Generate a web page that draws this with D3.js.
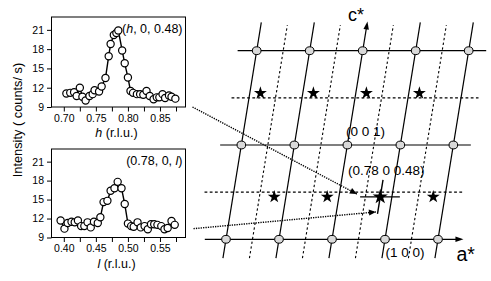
<!DOCTYPE html>
<html><head><meta charset="utf-8">
<script src="https://cdn.jsdelivr.net/npm/d3@7"></script>
<style>
html,body{margin:0;padding:0;background:#fff;}
svg{display:block;font-family:"Liberation Sans",Arial,sans-serif;}
</style></head>
<body><svg id="c" width="491" height="281"></svg>
<script>
// ---- scan data ----
const hValues = [0.704,0.710,0.716,0.720,0.725,0.729,0.734,0.740,0.745,0.748,0.755,0.759,0.765,0.770,0.773,0.778,0.782,0.785,0.791,0.795,0.800,0.804,0.808,0.814,0.819,0.824,0.829,0.834,0.840,0.845,0.849,0.854,0.858,0.864,0.868,0.874];
const hCounts = [11.1,11.2,11.3,10.7,12.0,10.6,10.0,10.7,11.0,11.6,11.4,12.2,13.5,16.9,18.8,20.2,20.5,20.9,17.8,15.8,13.6,11.5,11.2,11.0,11.0,10.9,11.5,10.7,10.2,10.5,10.5,11.0,10.4,10.8,10.6,10.3];
const lValues = [0.395,0.401,0.406,0.412,0.417,0.422,0.427,0.432,0.437,0.442,0.447,0.453,0.457,0.462,0.468,0.473,0.479,0.484,0.490,0.495,0.500,0.505,0.509,0.515,0.520,0.526,0.531,0.536,0.541,0.546,0.552,0.557,0.562,0.568,0.573];
const lCounts = [11.7,10.4,11.3,11.5,11.4,11.7,10.8,10.8,11.4,10.6,11.5,11.3,12.2,14.6,14.8,16.4,16.8,17.8,16.8,14.3,11.2,10.8,10.7,11.4,10.6,10.8,10.3,11.1,11.1,11.0,10.8,10.3,10.5,11.6,11.0];
const hTicks = [0.70,0.725,0.75,0.775,0.80,0.825,0.85,0.875];
const lTicks = [0.40,0.425,0.45,0.475,0.50,0.525,0.55,0.575];
const yTicks = [9,12,15,18,21];
// ---- reciprocal lattice (h, l) ----
const latticeH = [-2,-1,0,1,2];
const halfH = [-1.5,-0.5,0.5,1.5];
const latticeL = [0,1,2];
const halfL = [0.5,1.5];
const starsUpper = [-1.8,-0.8,0.2,1.2];   // h at l ~ 1.55
const starsLower = [-1.22,-0.22,0.78,1.78]; // h at l ~ 0.45
const starUpperL = 1.55, starLowerL = 0.45;
const bigStar = {h:0.78, l:0.45};

const svg = d3.select("#c");
const F = '"Liberation Sans",Arial,sans-serif';

function panel(top, bottom, xdom, xs, ys, ticks, title, note) {
  const left = 51.5, right = 185.5;
  const x = d3.scaleLinear().domain(xdom).range([left, right]);
  const y = d3.scaleLinear().domain([9, 23]).range([bottom, top]);
  const g = svg.append("g");
  const xa = d3.axisBottom(x).tickValues(ticks).tickSize(4.5).tickPadding(3)
    .tickFormat(d => (Math.round(d*1000) % 50 === 0) ? d3.format(".2f")(d) : "");
  const ya = d3.axisLeft(y).tickValues(yTicks).tickSize(4.5).tickPadding(3);
  const gx = g.append("g").attr("transform", `translate(0,${bottom})`).call(xa);
  const gy = g.append("g").attr("transform", `translate(${left},0)`).call(ya);
  [gx, gy].forEach(a => {
    a.select(".domain").remove();
    a.selectAll("line").attr("stroke", "#000").attr("stroke-width", 1);
    a.selectAll("text").attr("font-family", F).attr("font-size", 10.5).attr("fill", "#000");
  });
  g.append("rect").attr("x", left).attr("y", top).attr("width", right-left).attr("height", bottom-top)
    .attr("fill", "none").attr("stroke", "#000").attr("stroke-width", 1);
  const line = d3.line().x((d,i) => x(xs[i])).y((d,i) => y(ys[i]));
  g.append("path").datum(xs).attr("d", line).attr("fill", "none").attr("stroke", "#000").attr("stroke-width", 1.4);
  g.selectAll("circle.p").data(xs).join("circle").attr("class","p")
    .attr("cx", d => x(d)).attr("cy", (d,i) => y(ys[i])).attr("r", 3.6)
    .attr("fill", "#fff").attr("stroke", "#000").attr("stroke-width", 1.2);
  const t = g.append("text").attr("x", (left+right)/2 - 2).attr("y", bottom + 30)
    .attr("text-anchor","middle").attr("font-family", F).attr("font-size", 12.5);
  t.append("tspan").attr("font-style","italic").text(title);
  t.append("tspan").text(" (r.l.u.)");
  const n = g.append("text").attr("x", right - 3).attr("y", top + 16)
    .attr("text-anchor","end").attr("font-family", F).attr("font-size", 12.5);
  note.forEach(p => n.append("tspan").attr("font-style", p[1] ? "italic" : null).text(p[0]));
  return {x, y, left, right, top, bottom};
}

const P1 = panel(17, 107, [0.6808, 0.8898], hValues, hCounts, hTicks, "h",
  [["(",0],["h",1],[", 0, 0.48)",0]]);
const P2 = panel(149, 237.5, [0.3808, 0.5898], lValues, lCounts, lTicks, "l",
  [["(0.78, 0, ",0],["l",1],[")",0]]);

svg.append("text").attr("transform", "translate(21.5,120) rotate(-90)")
  .attr("text-anchor","middle").attr("font-family", F).attr("font-size", 12.8)
  .text("Intensity ( counts/ s)");

// ---- lattice drawing ----
const sH = d3.scaleLinear().domain([0,1]).range([332, 385]);
const sL = d3.scaleLinear().domain([0,1]).range([239.3, 145]);
const tilt = 15.35;
const P = (h, l) => [sH(h) + tilt*l, sL(l)];
const G = svg.append("g");
function seg(a, b, dash, w) {
  return G.append("line").attr("x1", a[0]).attr("y1", a[1]).attr("x2", b[0]).attr("y2", b[1])
    .attr("stroke", "#000").attr("stroke-width", w || 1.2).attr("stroke-dasharray", dash || null);
}
function head(tip, from, len, wid) {
  const dx = tip[0]-from[0], dy = tip[1]-from[1], d = Math.hypot(dx, dy);
  const ux = dx/d, uy = dy/d, bx = tip[0]-ux*len, by = tip[1]-uy*len;
  G.append("path").attr("d", `M${tip[0]},${tip[1]}L${bx - uy*wid/2},${by + ux*wid/2}L${bx + uy*wid/2},${by - ux*wid/2}Z`)
    .attr("fill", "#000");
}
// tilted lines
latticeH.forEach(h => seg(P(h, -0.2), P(h, h === 0 ? 2.24 : 2.3)));
halfH.forEach(h => seg(P(h, -0.2), P(h, 2.27), "2.4,2.4", 1.1));
// horizontal lines
seg(P(-2.4, 0), P(2.42, 0));
seg(P(-2.4, 1), P(2.33, 1));
seg(P(-2.36, 2), P(2.33, 2));
seg(P(-2.55, 0.5), P(2.33, 0.5), "2.8,2.4", 1.1);
seg(P(-2.33, 1.5), P(2.33, 1.5), "2.8,2.4", 1.1);
head(P(2.48, 0), P(2, 0), 8, 5.5);
head(P(0, 2.31), P(0, 2), 8, 5.5);
// nodes
latticeL.forEach(l => latticeH.forEach(h => {
  const p = P(h, l);
  G.append("ellipse").attr("cx", p[0]).attr("cy", p[1]).attr("rx", 4.3).attr("ry", 3.9)
    .attr("fill", "#d9d9d9").attr("stroke", "#000").attr("stroke-width", 1);
}));
// stars
const star = d3.symbol().type(d3.symbolStar);
starsUpper.forEach(h => { const p = P(h, starUpperL);
  G.append("path").attr("d", star.size(52)()).attr("transform", `translate(${p[0]},${p[1]})`).attr("fill","#000"); });
starsLower.filter(h => h !== bigStar.h).forEach(h => { const p = P(h, starLowerL);
  G.append("path").attr("d", star.size(52)()).attr("transform", `translate(${p[0]},${p[1]})`).attr("fill","#000"); });
{ const p = P(bigStar.h, bigStar.l);
  G.append("path").attr("d", star.size(72)()).attr("transform", `translate(${p[0]},${p[1]})`).attr("fill","#000"); }
// scan crosshair
seg(P(0.40, 0.45), P(1.15, 0.45), null, 1.4);
seg(P(0.78, 0.27), P(0.78, 0.63), null, 1.4);
// dotted arrows from panels
const a1s = [P1.right + 7, P1.bottom], a1e = P(0.33, 0.48);
seg(a1s, a1e, "1.3,1.1", 1.4); head(a1e, a1s, 7, 6);
const a2s = [P2.right + 8, P2.y(10.4)], a2e = P(0.745, 0.29);
seg(a2s, a2e, "1.3,1.1", 1.4); head(a2e, a2s, 7, 6);
// labels
function lab(txt, x, y, size) {
  G.append("text").attr("x", x).attr("y", y).attr("font-family", F).attr("font-size", size).text(txt);
}
lab("(0 0 1)", 346, 135.5, 13.5);
lab("(0.78 0 0.48)", 348, 174.5, 13.5);
lab("(1 0 0)", 385.5, 256.5, 13.5);
lab("c*", 348, 20.5, 18);
lab("a*", 456.5, 260.5, 19.5);
</script></body></html>
